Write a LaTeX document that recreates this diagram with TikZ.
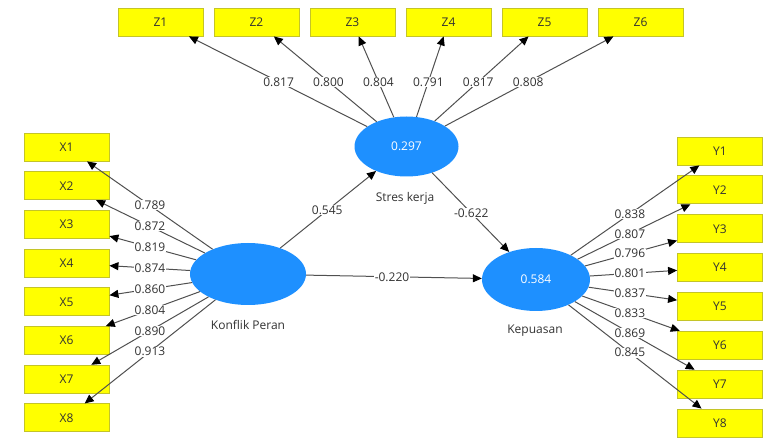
\documentclass[tikz,border=0pt]{standalone}
\usepackage{fontspec}
\setmainfont{Open Sans}
\usetikzlibrary{arrows.meta,calc,shapes.geometric}
\definecolor{boxfill}{RGB}{255,255,0}
\definecolor{boxline}{RGB}{196,196,40}
\definecolor{lvfill}{RGB}{30,144,255}
\definecolor{edgecol}{RGB}{80,80,80}
\definecolor{txt}{RGB}{50,50,50}
\begin{document}
\begin{tikzpicture}[x=1pt,y=-1pt,
  ind/.style={draw=boxline,line width=0.8pt,fill=boxfill,minimum width=85pt,minimum height=28pt,inner sep=0pt,font=\fontsize{12}{14}\selectfont,text=txt},
  lv/.style={ellipse,fill=lvfill,inner sep=0pt,text=white,font=\fontsize{12}{14}\selectfont},
  lvname/.style={text=txt,font=\fontsize{12}{14}\selectfont},
  load/.style={draw=edgecol,line width=1pt,-{Triangle[length=9pt,width=8pt,color=black]}},
  val/.style={fill=white,inner sep=0.6pt,text=txt,font=\fontsize{12}{14}\selectfont}]
\useasboundingbox (0,0) rectangle (769,443);
% latent variables
\node[lv,minimum width=116pt,minimum height=62pt] (KP) at (248,274) {};
\node[lv,minimum width=104pt,minimum height=60pt] (SK) at (406.5,146.5) {0.297};
\node[lv,minimum width=108pt,minimum height=63pt] (KE) at (536,279.5) {0.584};
\node[lvname] (KPn) at (248,325) {Konflik Peran};
\node[lvname] (SKn) at (405,198) {Stres kerja};
\node[lvname] (KEn) at (535,331) {Kepuasan};
% indicators
\foreach \i in {1,...,8} {
  \node[ind] (x\i) at (66.5,{147+38.7*(\i-1)}) {X\i};
  \node[ind] (y\i) at (720,{151+38.86*(\i-1)}) {Y\i};
}
\foreach \i in {1,...,6} {
  \node[ind] (z\i) at ({160.5+96*(\i-1)},22) {Z\i};
}
% loadings
\foreach \i/\v in {1/0.789,2/0.872,3/0.819,4/0.874,5/0.860,6/0.804,7/0.890,8/0.913} {
  \draw[load] (KP) -- (x\i);
  \node[val] (lx\i) at ($(KP.center)!0.54!(x\i.center)$) {\v};
}
\foreach \i/\v in {1/0.838,2/0.807,3/0.796,4/0.801,5/0.837,6/0.833,7/0.869,8/0.845} {
  \draw[load] (KE) -- (y\i);
  \node[val] (ly\i) at ($(KE.center)!0.51!(y\i.center)$) {\v};
}
\foreach \i/\v in {1/0.817,2/0.800,3/0.804,4/0.791,5/0.817,6/0.808} {
  \draw[load] (SK) -- (z\i);
  \node[val] (lz\i) at ($(SK.center)!0.52!(z\i.center)$) {\v};
}
% structural paths
\draw[load] (KP) -- (SK);
\node[val] (p1) at ($(KP.center)!0.5!(SK.center)$) {0.545};
\draw[load] (SK) -- (KE);
\node[val] (p2) at ($(SK.center)!0.5!(KE.center)$) {-0.622};
\draw[load] (KP) -- (KE);
\node[val] (p3) at ($(KP.center)!0.5!(KE.center)$) {-0.220};
\end{tikzpicture}
\end{document}
